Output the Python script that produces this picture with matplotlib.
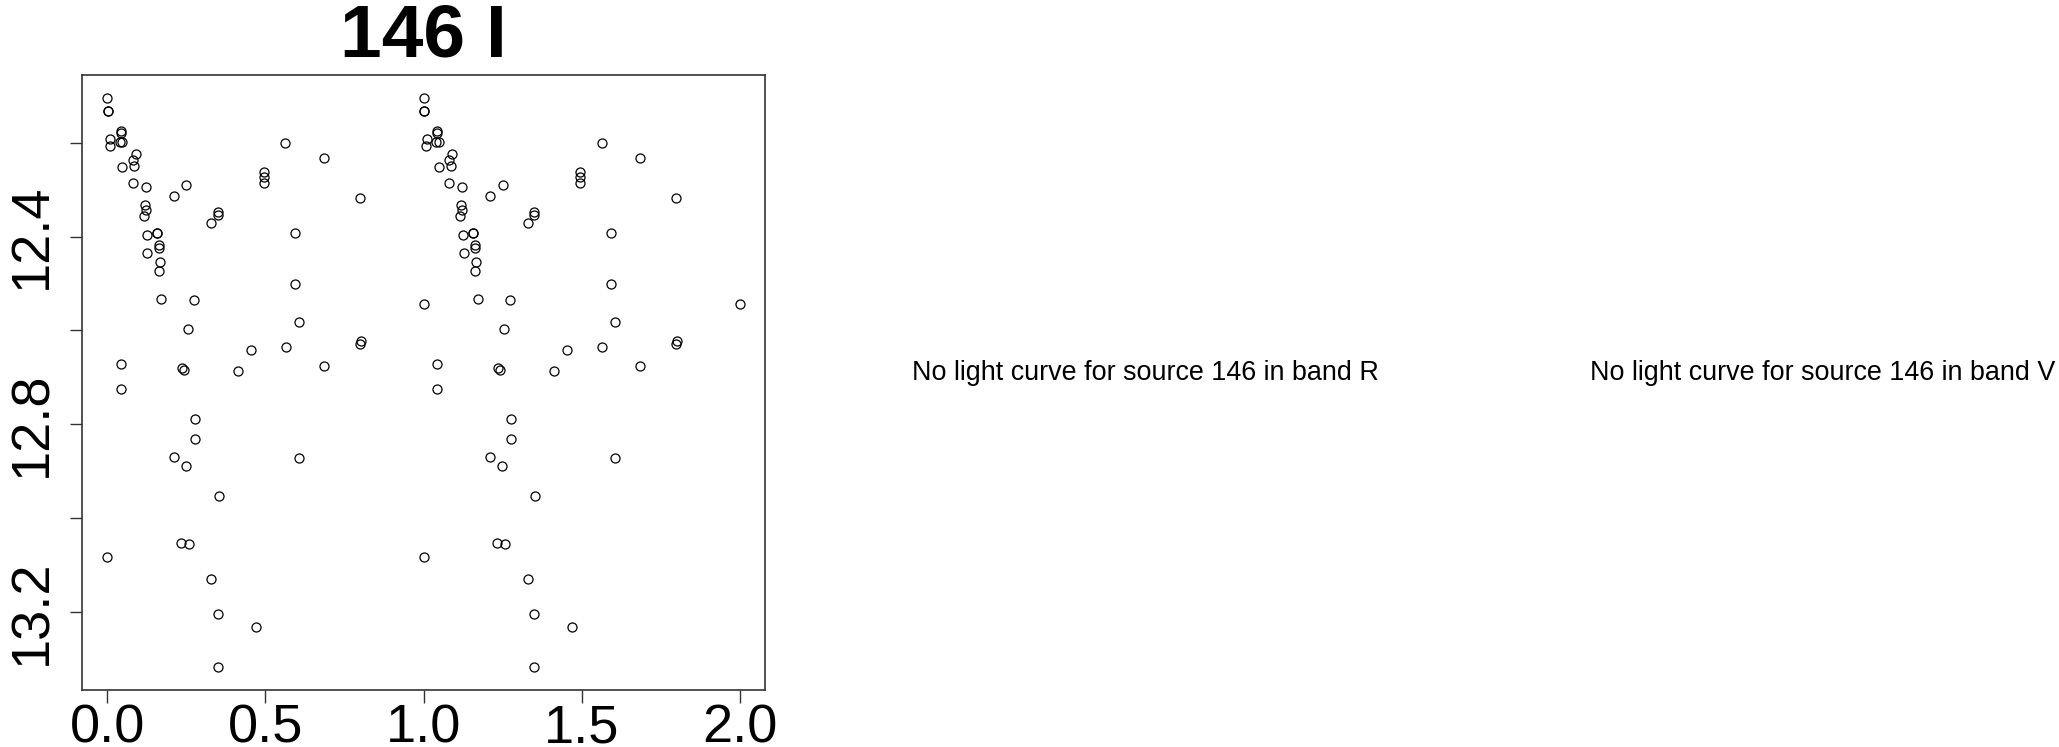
import numpy as np
import matplotlib
matplotlib.use("Agg")
import matplotlib.pyplot as plt

plt.rcParams['font.family'] = ['Liberation Sans', 'DejaVu Sans']

# folded light curve of source 146, band I (phase, magnitude)
phase = [0.000, 0.002, 0.002, 0.010, 0.009, 0.043, 0.042, 0.039, 0.048, 0.090,
         0.082, 0.086, 0.048, 0.080, 0.121, 0.119, 0.122, 0.116, 0.125, 0.156,
         0.158, 0.162, 0.162, 0.127, 0.166, 0.164, 0.171, 0.211, 0.250, 0.274,
         0.256, 0.329, 0.351, 0.351, 0.494, 0.494, 0.494, 0.563, 0.684, 0.799,
         0.593, 0.594, 0.607, 0.564, 0.455, 0.413, 0.684, 0.803, 0.799, 0.043,
         0.236, 0.243, 0.044, 0.278, 0.277, 0.211, 0.249, 0.606, 0.352, 0.233,
         0.257, 0.000, 0.329, 0.349, 0.470, 0.350, 1.000]
mag = [12.104, 12.132, 12.133, 12.191, 12.207, 12.174, 12.180, 12.199, 12.199, 12.223,
       12.237, 12.249, 12.252, 12.285, 12.295, 12.332, 12.343, 12.357, 12.397, 12.393,
       12.392, 12.418, 12.425, 12.435, 12.455, 12.474, 12.532, 12.314, 12.289, 12.536,
       12.598, 12.370, 12.348, 12.354, 12.262, 12.272, 12.286, 12.200, 12.232, 12.318,
       12.392, 12.500, 12.583, 12.636, 12.641, 12.687, 12.675, 12.622, 12.629, 12.672,
       12.681, 12.685, 12.725, 12.789, 12.832, 12.870, 12.888, 12.871, 12.954, 13.053,
       13.056, 13.083, 13.130, 13.204, 13.232, 13.318, 12.543]

source = 146
band = "I"
missing_bands = ["R", "V"]
x_ticks = [0.0, 0.5, 1.0, 1.5, 2.0]
y_ticks = [12.2, 12.4, 12.6, 12.8, 13.0, 13.2]
y_labels = ["", "12.4", "", "12.8", "", "13.2"]

W, H = 2059, 747
fig = plt.figure(figsize=(W / 100, H / 100), dpi=100)

# plot box in pixels
left, right, top, bottom = 82, 765, 75, 690
ax = fig.add_axes([left / W, 1 - bottom / H, (right - left) / W, (bottom - top) / H])

ph = np.array(phase)
m = np.array(mag)
x = np.concatenate([ph, ph + 1])
y = np.concatenate([m, m])
ax.plot(x, y, 'o', ms=6.5, mfc='none', mec='black', mew=0.9)

# R style 4% padding
xr = x.max() - x.min()
yr = y.max() - y.min()
ax.set_xlim(x.min() - 0.04 * xr, x.max() + 0.04 * xr)
ax.set_ylim(y.max() + 0.04 * yr, y.min() - 0.04 * yr)

ax.set_xticks(x_ticks)
ax.set_xticklabels(["%.1f" % t for t in x_ticks])
ax.set_yticks(y_ticks)
ax.set_yticklabels(y_labels, rotation=90, va='center')
ax.tick_params(axis='both', labelsize=39, length=9, width=1.0, color='#333333')
ax.tick_params(axis='x', pad=1.0)
ax.tick_params(axis='y', pad=9)
for s in ax.spines.values():
    s.set_linewidth(1.2)
    s.set_color('#333333')

ax.set_title("%d %s" % (source, band), fontsize=54, fontweight='bold', pad=13)

# empty panels for bands without data
centers = [1145, 1823]
for b, cx in zip(missing_bands, centers):
    fig.text(cx / W, 1 - 373 / H, "No light curve for source %d in band %s" % (source, b),
             ha='center', va='center', fontsize=19.4)

fig.savefig("out.png", dpi=100)
